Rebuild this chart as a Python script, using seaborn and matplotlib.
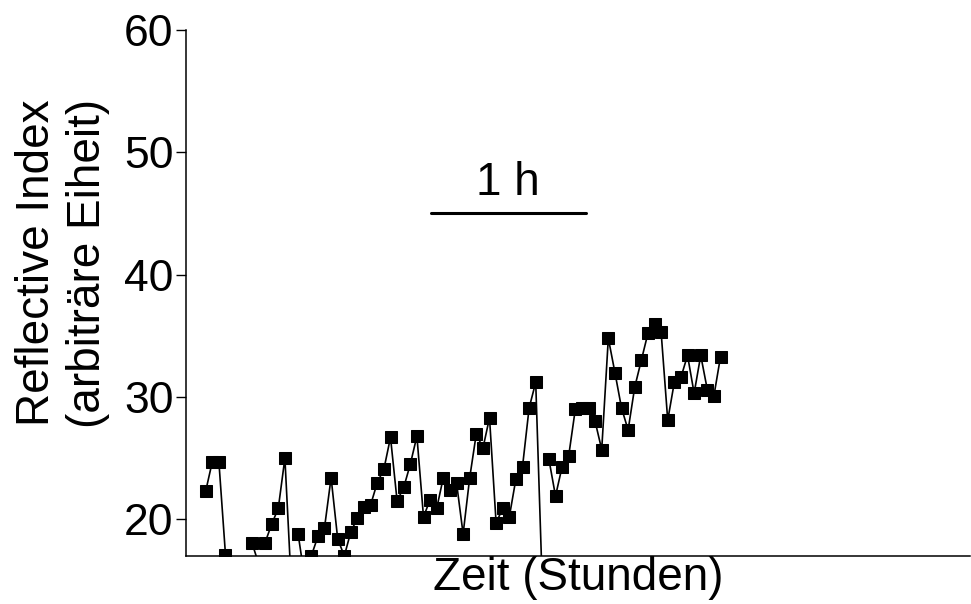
import numpy as np
import pandas as pd
import matplotlib
matplotlib.use("Agg")
import matplotlib.pyplot as plt
import seaborn as sns

# samples every 2.5 min, time in hours
index = np.arange(79)
time_h = index / 24.0
reflective = [
    22.3, 24.7, 24.7, 17.1, 15.0, 15.5, 15.5, 18.1, 16.4, 18.1,
    19.6, 20.9, 25.0, 14.3, 18.8, 15.2, 17.0, 18.6, 19.3, 23.4,
    18.4, 17.0, 19.0, 20.1, 21.0, 21.2, 23.0, 24.1, 26.7, 21.5,
    22.6, 24.5, 26.8, 20.2, 21.6, 20.9, 23.4, 22.4, 23.0, 18.8,
    23.4, 27.0, 25.8, 28.3, 19.7, 20.9, 20.2, 23.3, 24.3, 29.1,
    31.2, 14.5, 24.9, 21.9, 24.3, 25.2, 29.0, 29.1, 29.1, 28.0,
    25.7, 34.8, 32.0, 29.1, 27.3, 30.8, 33.0, 35.2, 36.0, 35.3,
    28.1, 31.2, 31.6, 33.4, 30.3, 33.4, 30.6, 30.1, 33.3,
]
# the trace restarts after the readings that dropped out of range
restart_at = [7, 9, 14, 52]
yticks = [20, 30, 40, 50, 60]

segment = np.cumsum(np.isin(index, restart_at))
df = pd.DataFrame({"Zeit": time_h, "Index": reflective, "seg": segment})

sns.set_style("ticks")
plt.rcParams['font.family'] = ['Liberation Sans', 'DejaVu Sans']
for k in ["text.color", "axes.labelcolor", "xtick.color", "ytick.color", "axes.edgecolor"]:
    plt.rcParams[k] = "black"

fig = plt.figure(figsize=(9.71, 6.04), dpi=100)
ax = fig.add_axes([0.1916, 0.0795, 0.8074, 0.8708])

sns.lineplot(data=df, x="Zeit", y="Index", units="seg", estimator=None, ax=ax,
             color="black", marker="s", markersize=9, markeredgecolor="black",
             linewidth=1.2)

ax.set_xlim(-0.124, 4.825)
ax.set_ylim(17, 60)
ax.set_yticks(yticks)
ax.set_xticks([])
ax.tick_params(axis="y", labelsize=32, length=7, width=1, color="black", pad=2)
for s in ["top", "right"]:
    ax.spines[s].set_visible(False)
for s in ["left", "bottom"]:
    ax.spines[s].set_linewidth(1.1)

ax.set_ylabel("Reflective Index\n(arbitr\u00e4re Eiheit)", fontsize=33,
              linespacing=1.2)
ax.yaxis.set_label_coords(-0.097, 0.557)
ax.set_xlabel("Zeit (Stunden)", fontsize=33, labelpad=0)

# scale bar 1 h
ax.plot([1.42, 2.40], [45, 45], color="black", linewidth=2.2)
ax.text(1.91, 45.7, "1 h", fontsize=33, ha="center", va="bottom")

fig.savefig("out.png", dpi=100)
